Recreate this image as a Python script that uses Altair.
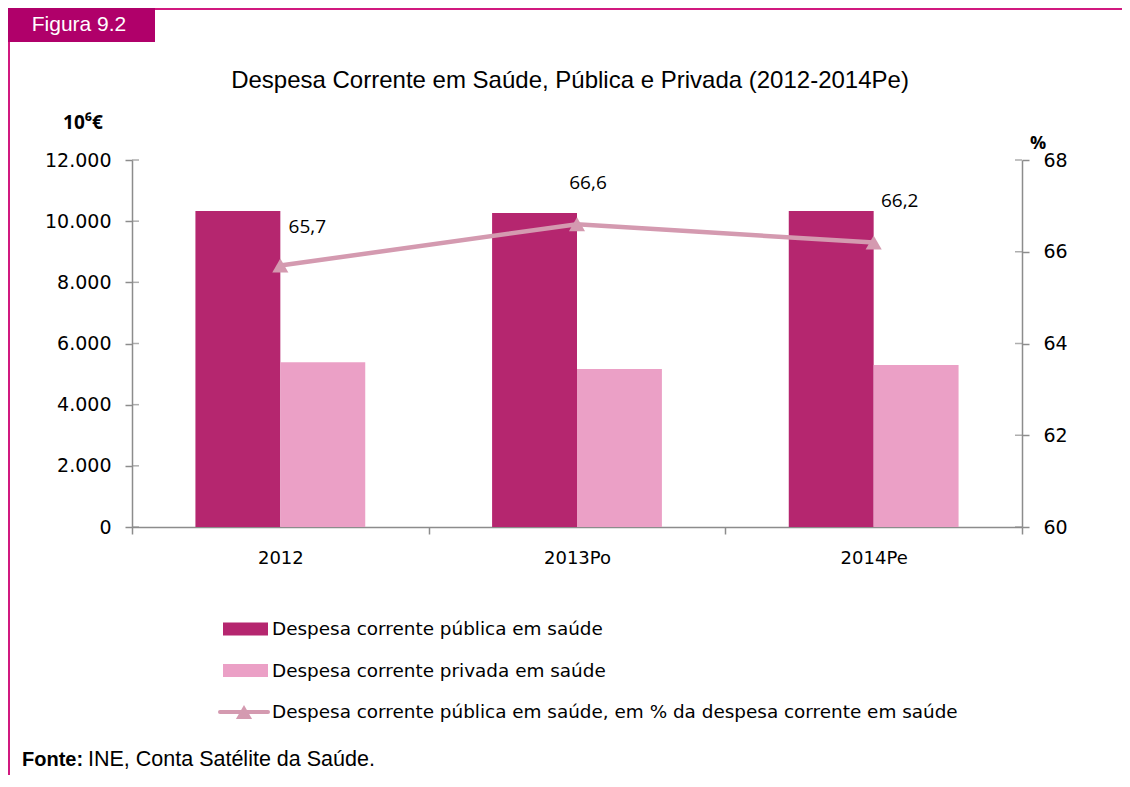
import altair as alt
import pandas as pd

# ---------------- data ----------------
anos = ["2012", "2013Po", "2014Pe"]
publica = [10330, 10270, 10330]
privada = [5390, 5170, 5300]
pct_publica = [65.7, 66.6, 66.2]

serie_pub = "Despesa corrente pública em saúde"
serie_priv = "Despesa corrente privada em saúde"
serie_pct = "Despesa corrente pública em saúde, em % da despesa corrente em saúde"

titulo = "Despesa Corrente em Saúde, Pública e Privada (2012-2014Pe)"
figura = "Figura 9.2"
unidade_esq = "10⁶€"
unidade_dir = "%"
fonte_bold = "Fonte:"
fonte_txt = "INE, Conta Satélite da Saúde."
left_ticks = [0, 2000, 4000, 6000, 8000, 10000, 12000]
right_ticks = [60, 62, 64, 66, 68]

# ---------------- styles ----------------
PUB = "#B5266F"
PRIV = "#EBA0C6"
LINE = "#D49AB0"
AXIS = "#8C8C8C"
TAB = "#B0006A"
FRAME = "#D1197F"
CAL = "Open Sans"
WIDE = "DejaVu Sans"
ARIAL = "Liberation Sans"

bars_df = pd.DataFrame({
    "ano": anos * 2,
    "serie": [serie_pub] * 3 + [serie_priv] * 3,
    "valor": publica + privada,
})
pct_df = pd.DataFrame({"ano": anos, "pct": pct_publica})

color_enc = alt.Color("serie:N", scale=alt.Scale(domain=[serie_pub, serie_priv], range=[PUB, PRIV]), legend=None)

x_enc = alt.X(
    "ano:N", sort=anos, title=None,
    scale=alt.Scale(paddingInner=0, paddingOuter=0),
    axis=alt.Axis(tickBand="extent", labelAngle=0, domainColor=AXIS, tickColor=AXIS, domainWidth=1.5,
                  tickWidth=1.5, tickSize=7, labelPadding=15, labelFont=WIDE, labelFontSize=18,
                  labelColor="black"),
)

y_left = alt.Y("valor:Q", title=None, scale=alt.Scale(domain=[0, 12000], nice=False),
               axis=alt.Axis(values=left_ticks, grid=False, domainColor=AXIS, tickColor=AXIS, domainWidth=1.5,
                             tickWidth=1.5, tickSize=7, labelPadding=14, labelFont=WIDE, labelFontSize=19,
                             labelColor="black",
                             labelExpr="replace(format(datum.value, ','), ',', '.')"))

bars = alt.Chart(bars_df).mark_bar().encode(
    x=x_enc,
    xOffset=alt.XOffset("serie:N", sort=[serie_pub, serie_priv], scale=alt.Scale(paddingInner=0, paddingOuter=0.747)),
    y=y_left,
    color=color_enc,
)
# inward half of the crossing ticks on the left axis
left_in = alt.Chart(pd.DataFrame({"valor": left_ticks})).mark_tick(
    orient="horizontal", color=AXIS, size=7, thickness=1.5).encode(x=alt.value(3.5), y=y_left)
left_layer = alt.layer(bars, left_in)

y_right = alt.Y("pct:Q", title=None, scale=alt.Scale(domain=[60, 68], nice=False),
                axis=alt.Axis(orient="right", values=right_ticks, grid=False, domainColor=AXIS, tickColor=AXIS,
                              domainWidth=1.5, tickWidth=1.5, tickSize=7, labelPadding=14, labelFont=WIDE,
                              labelFontSize=19, labelColor="black"))

base_pct = alt.Chart(pct_df)
line = base_pct.mark_line(color=LINE, strokeWidth=4.5).encode(x=x_enc, y=y_right)
pts = base_pct.mark_point(shape="triangle-up", filled=True, opacity=1, color=LINE, size=260).encode(x=x_enc, y=y_right)
right_in = alt.Chart(pd.DataFrame({"pct": right_ticks})).mark_tick(
    orient="horizontal", color=AXIS, size=7, thickness=1.5).encode(x=alt.value(886.5), y=y_right)

label_offsets = {"2012": (27, -39), "2013Po": (11, -41), "2014Pe": (26, -42)}
label_layers = []
for ano in anos:
    dx, dy = label_offsets[ano]
    label_layers.append(
        base_pct.transform_filter(alt.datum.ano == ano)
        .transform_calculate(lbl="replace(format(datum.pct, '.1f'), '.', ',')")
        .mark_text(font=CAL, fontSize=19, color="black", dx=dx, dy=dy, align="center", baseline="middle")
        .encode(x=x_enc, y=y_right, text="lbl:N")
    )

pct_layer = alt.layer(line, pts, right_in, *label_layers)

# ---------------- legend (drawn below plot) ----------------
leg_scale = alt.Scale(type="point", domain=[serie_pub, serie_priv, serie_pct], range=[469, 552], padding=0)
leg_y = alt.Y("serie:N", scale=leg_scale, axis=None, title=None)

leg_bar_df = pd.DataFrame({"serie": [serie_pub, serie_priv]})
leg_bars = alt.Chart(leg_bar_df).mark_rule(strokeWidth=13, strokeCap="butt").encode(
    x=alt.value(91), x2=alt.value(136), y=leg_y, color=color_enc)

leg_line_df = pd.DataFrame({"serie": [serie_pct]})
leg_line = alt.Chart(leg_line_df).mark_rule(strokeWidth=4, color=LINE, strokeCap="round").encode(
    x=alt.value(88), x2=alt.value(136), y=leg_y)
leg_tri = alt.Chart(leg_line_df).mark_point(shape="triangle-up", filled=True, opacity=1, color=LINE, size=260).encode(
    x=alt.value(112), y=leg_y)

leg_text_df = pd.DataFrame({"serie": [serie_pub, serie_priv, serie_pct]})
leg_text = alt.Chart(leg_text_df).mark_text(font=WIDE, fontSize=18.4, color="black", align="left", baseline="middle").encode(
    x=alt.value(140), y=leg_y, text="serie:N")


# ---------------- decorations ----------------
def one(s):
    return alt.Chart(pd.DataFrame({"t": [s]}))


def txt(s, x, y, **kw):
    return one(s).mark_text(**kw).encode(x=alt.value(x), y=alt.value(y), text="t:N")


frame_top = one("").mark_rule(color=FRAME, strokeWidth=2).encode(
    x=alt.value(-124), x2=alt.value(998), y=alt.value(-151))
frame_left = one("").mark_rule(color=FRAME, strokeWidth=2).encode(
    x=alt.value(-123), y=alt.value(-152), y2=alt.value(620))
tab = one("").mark_rect(color=TAB).encode(
    x=alt.value(-124), x2=alt.value(23), y=alt.value(-152), y2=alt.value(-118))
tab_txt = txt(figura, -53, -129, font=ARIAL, fontSize=21, color="white", align="center", baseline="alphabetic")
title_txt = txt(titulo, 438, -72, font=ARIAL, fontSize=24, color="black", align="center", baseline="alphabetic")
unit_l = txt(unidade_esq, -49, -31, font=CAL, fontSize=19, fontWeight="bold", color="black", align="center",
             baseline="alphabetic")
unit_r = txt(unidade_dir, 906, -11, font=CAL, fontSize=18, fontWeight="bold", color="black", align="center",
             baseline="alphabetic")
src_b = txt(fonte_bold, -110, 606, font=ARIAL, fontSize=20, fontWeight="bold", color="black", align="left",
            baseline="alphabetic")
src_t = txt(fonte_txt, -44, 606, font=ARIAL, fontSize=21.5, color="black", align="left", baseline="alphabetic")

chart = alt.layer(
    left_layer, pct_layer,
    leg_bars, leg_line, leg_tri, leg_text,
    frame_top, frame_left, tab, tab_txt, title_txt, unit_l, unit_r, src_b, src_t,
).resolve_scale(y="independent").properties(
    width=890, height=367,
    autosize=alt.AutoSizeParams(type="none"),
    padding={"left": 124, "top": 152, "right": 100, "bottom": 248},
    background="white",
).configure_view(stroke=None)

chart.save("out.html", embed_options={"renderer": "svg", "actions": False})
